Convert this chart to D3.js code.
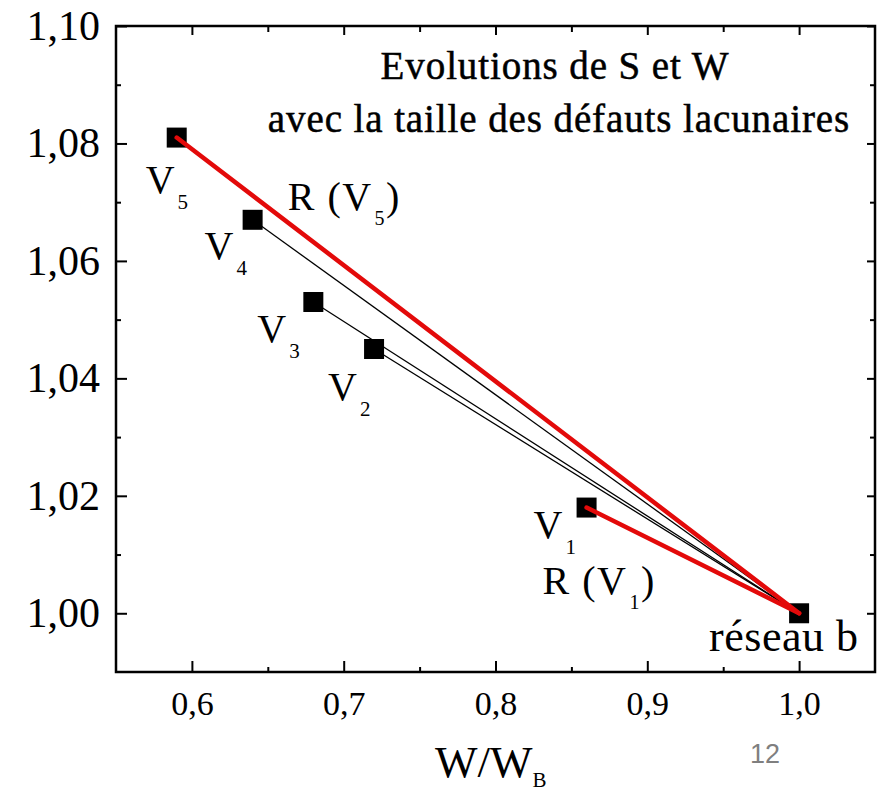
<!DOCTYPE html>
<html>
<head>
<meta charset="utf-8">
<script src="https://cdn.jsdelivr.net/npm/d3@7"></script>
<style>
  body { margin: 0; background: #fff; }
  svg text { font-family: "Liberation Serif", "Times New Roman", serif; fill: #000; }
</style>
</head>
<body>
<svg id="chart" width="879" height="795"></svg>
<script>
// vacancy defects V1..V5 : W/W_B and S/S_B
var defectNames = ["V1", "V2", "V3", "V4", "V5"];
var wRatio = [0.86, 0.72, 0.68, 0.64, 0.59];
var sRatio = [1.018, 1.045, 1.053, 1.067, 1.081];
// relaxed defects get the red segment
var relaxedDefects = ["V1", "V5"];
// perfect lattice
var latticeName = "réseau b";
var latticeW = 1.0;
var latticeS = 1.0;

var xTicks = [0.6, 0.7, 0.8, 0.9, 1.0];
var xTickLabels = ["0,6", "0,7", "0,8", "0,9", "1,0"];
var xMinorTicks = [0.65, 0.75, 0.85, 0.95];
var yTicks = [1.00, 1.02, 1.04, 1.06, 1.08, 1.10];
var yTickLabels = ["1,00", "1,02", "1,04", "1,06", "1,08", "1,10"];
var yMinorTicks = [1.01, 1.03, 1.05, 1.07, 1.09];

var titleLines = ["Evolutions de S et W", "avec la taille des défauts lacunaires"];

var svg = d3.select("#chart");
// frame of the plot (window.top is reserved, hence the prefix)
var plotLeft = 116, plotRight = 875, plotTop = 26, plotBottom = 672;

var x = d3.scaleLinear().domain([0.55, 1.05]).range([plotLeft, plotRight]);
var y = d3.scaleLinear().domain([0.99, 1.10]).range([plotBottom, plotTop]);

// axes, ticks pointing inside the frame
function styleAxis(g) {
    g.select(".domain").remove();
    g.selectAll(".tick line").attr("stroke", "#000").attr("stroke-width", 2);
}

svg.append("g").attr("transform", "translate(0," + plotBottom + ")")
    .call(d3.axisBottom(x).tickValues(xTicks).tickSize(-11).tickPadding(19)
        .tickFormat(function (d, i) { return xTickLabels[i]; }))
    .call(styleAxis)
    .selectAll("text").style("font-size", "34px").style("font-family", "Liberation Serif");
svg.append("g").attr("transform", "translate(0," + plotBottom + ")")
    .call(d3.axisBottom(x).tickValues(xMinorTicks).tickSize(-5).tickFormat(""))
    .call(styleAxis);

svg.append("g").attr("transform", "translate(" + plotLeft + ",0)")
    .call(d3.axisLeft(y).tickValues(yTicks).tickSize(-11).tickPadding(16)
        .tickFormat(function (d, i) { return yTickLabels[i]; }))
    .call(styleAxis)
    .selectAll("text").style("font-size", "42px").style("font-family", "Liberation Serif");
svg.append("g").attr("transform", "translate(" + plotLeft + ",0)")
    .call(d3.axisLeft(y).tickValues(yMinorTicks).tickSize(-5).tickFormat(""))
    .call(styleAxis);

// mirrored ticks on top and right
svg.append("g").attr("transform", "translate(0," + plotTop + ")")
    .call(d3.axisTop(x).tickValues(xTicks).tickSize(-9).tickFormat(""))
    .call(styleAxis);
svg.append("g").attr("transform", "translate(0," + plotTop + ")")
    .call(d3.axisTop(x).tickValues(xMinorTicks).tickSize(-6).tickFormat(""))
    .call(styleAxis);
svg.append("g").attr("transform", "translate(" + plotRight + ",0)")
    .call(d3.axisRight(y).tickValues(yTicks).tickSize(-8).tickFormat(""))
    .call(styleAxis);
svg.append("g").attr("transform", "translate(" + plotRight + ",0)")
    .call(d3.axisRight(y).tickValues(yMinorTicks).tickSize(-5).tickFormat(""))
    .call(styleAxis);

svg.append("rect")
    .attr("x", plotLeft).attr("y", plotTop)
    .attr("width", plotRight - plotLeft).attr("height", plotBottom - plotTop)
    .attr("fill", "none").attr("stroke", "#000").attr("stroke-width", 2.5);

// title inside the frame
svg.selectAll(".title").data(titleLines).enter().append("text")
    .attr("class", "title")
    .attr("x", function (d, i) { return i == 0 ? 555 : 559; })
    .attr("y", function (d, i) { return i == 0 ? 79 : 132; })
    .attr("text-anchor", "middle")
    .style("font-size", "39px")
    .style("letter-spacing", "0.9px")
    .style("stroke", "#000").style("stroke-width", 0.5)
    .text(function (d) { return d; });

var defects = defectNames.map(function (n, i) {
    return { name: n, w: wRatio[i], s: sRatio[i], relaxed: relaxedDefects.indexOf(n) >= 0 };
});

// squares
var square = d3.symbol().type(d3.symbolSquare).size(400);
svg.selectAll(".pt").data(defects.concat([{ name: latticeName, w: latticeW, s: latticeS }]))
    .enter().append("path")
    .attr("class", "pt")
    .attr("d", square)
    .attr("transform", function (d) { return "translate(" + x(d.w) + "," + y(d.s) + ")"; })
    .attr("fill", "#000");

// segments from each defect to the lattice point
svg.selectAll(".seg").data(defects.filter(function (d) { return !d.relaxed; }))
    .enter().append("line")
    .attr("class", "seg")
    .attr("x1", function (d) { return x(d.w); }).attr("y1", function (d) { return y(d.s); })
    .attr("x2", x(latticeW)).attr("y2", y(latticeS))
    .attr("stroke", "#000").attr("stroke-width", 1.3);
svg.selectAll(".rseg").data(defects.filter(function (d) { return d.relaxed; }))
    .enter().append("line")
    .attr("class", "rseg")
    .attr("x1", function (d) { return x(d.w); }).attr("y1", function (d) { return y(d.s); })
    .attr("x2", x(latticeW)).attr("y2", y(latticeS))
    .attr("stroke", "#e30a0a").attr("stroke-width", 4.5).attr("stroke-linecap", "round");

// labels V_n next to each square
var labelOffset = { V1: [-53, 30], V2: [-46, 51], V3: [-56, 40], V4: [-48, 39], V5: [-31, 55] };
defects.forEach(function (d) {
    var o = labelOffset[d.name];
    var t = svg.append("text")
        .attr("x", x(d.w) + o[0]).attr("y", y(d.s) + o[1])
        .style("font-size", "40px");
    t.append("tspan").text(d.name.charAt(0));
    t.append("tspan").attr("dx", 3).attr("dy", 16).style("font-size", "21px").text(d.name.slice(1));
});

// R(V_n) labels for the relaxed defects
var relaxOffset = { V1: [-44, 86], V5: [111, 72] };
defects.filter(function (d) { return d.relaxed; }).forEach(function (d) {
    var o = relaxOffset[d.name];
    var t = svg.append("text")
        .attr("x", x(d.w) + o[0]).attr("y", y(d.s) + o[1])
        .style("font-size", "40px")
        .style("letter-spacing", "1.5px");
    t.append("tspan").text("R (" + d.name.charAt(0));
    t.append("tspan").attr("dx", 2).attr("dy", 15).style("font-size", "20px").text(d.name.slice(1));
    t.append("tspan").attr("dy", -15).text(")");
});

svg.append("text")
    .attr("x", x(latticeW) - 90).attr("y", y(latticeS) + 38)
    .style("font-size", "44px")
    .style("letter-spacing", "0.5px")
    .text(latticeName);

// x axis title
var xt = svg.append("text").attr("x", 435).attr("y", 777).style("font-size", "45px");
xt.append("tspan").text("W/W");
xt.append("tspan").attr("dy", 10).style("font-size", "21px").text("B");

// slide number
svg.append("text")
    .attr("x", 750).attr("y", 763)
    .style("font-family", "Liberation Sans, Arial, sans-serif")
    .style("font-size", "27px")
    .style("fill", "#7f7f7f")
    .text("12");
</script>
</body>
</html>
